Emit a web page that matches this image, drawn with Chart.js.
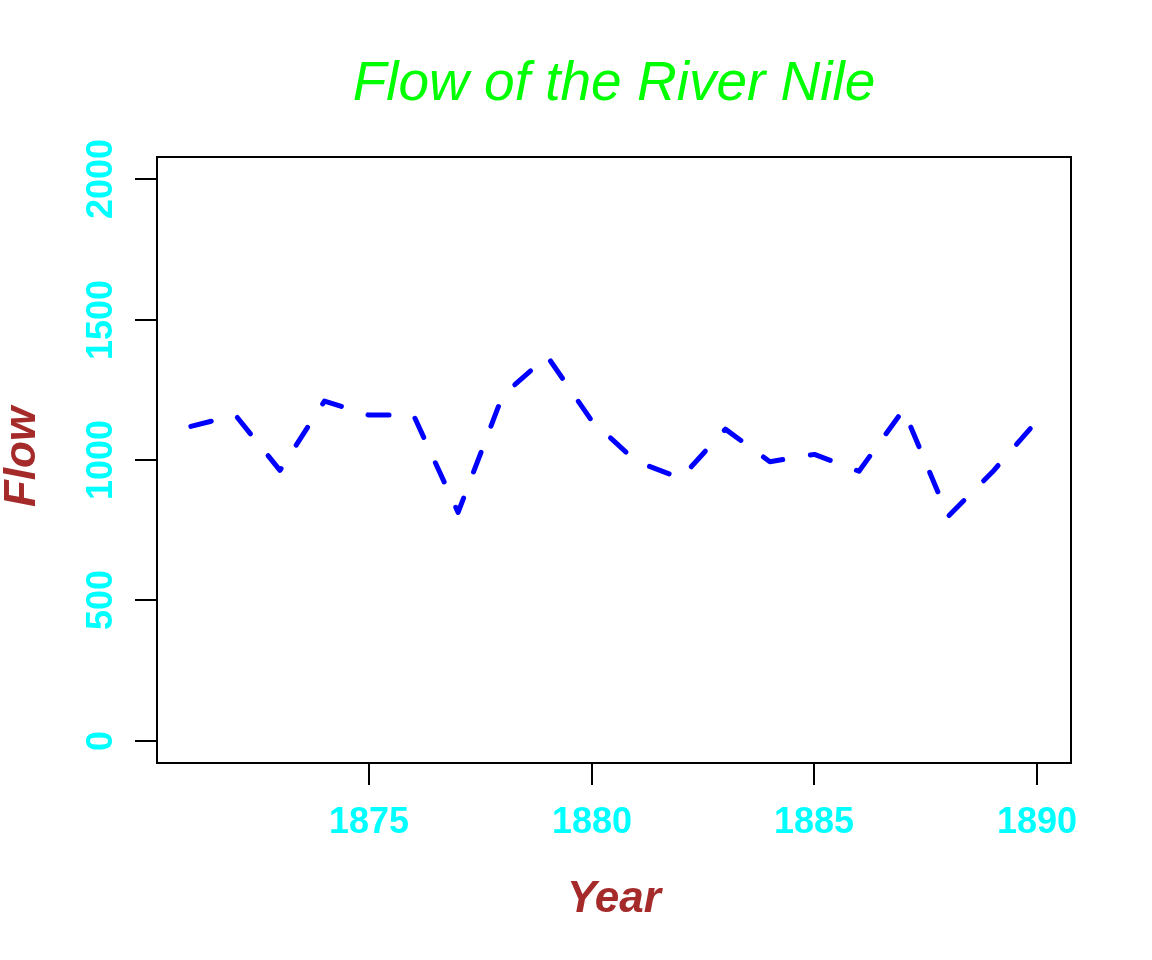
<!DOCTYPE html>
<html>
<head>
<meta charset="utf-8">
<script src="https://cdn.jsdelivr.net/npm/chart.js@4/dist/chart.umd.min.js"></script>
<style>
  body { margin: 0; background: #fff; }
  canvas { display: block; }
</style>
</head>
<body>
<canvas id="grafico" width="1152" height="960"></canvas>
<script>
// Nile flow, 1871-1890
const anos = [1871, 1872, 1873, 1874, 1875, 1876, 1877, 1878, 1879, 1880,
              1881, 1882, 1883, 1884, 1885, 1886, 1887, 1888, 1889, 1890];
const fluxo = [1120, 1160, 963, 1210, 1160, 1160, 813, 1230, 1370, 1140,
               995, 935, 1110, 994, 1020, 960, 1180, 799, 958, 1140];
const ticksX = [1875, 1880, 1885, 1890];
const ticksY = [0, 500, 1000, 1500, 2000];

const eixosR = {
    id: 'eixosR',
    afterDraw(chart) {
        const c = chart.ctx;
        const area = chart.chartArea;
        const sx = chart.scales.x;
        const sy = chart.scales.y;
        c.save();
        c.strokeStyle = '#000';
        c.lineWidth = 2;
        c.strokeRect(area.left, area.top, area.right - area.left, area.bottom - area.top);

        c.font = 'bold 36px "Liberation Sans", Arial, sans-serif';
        c.fillStyle = '#00FFFF';
        c.textAlign = 'center';
        c.textBaseline = 'alphabetic';
        ticksX.forEach(v => {
            const px = Math.round(sx.getPixelForValue(v));
            c.beginPath();
            c.moveTo(px, area.bottom);
            c.lineTo(px, area.bottom + 22);
            c.stroke();
            c.fillText(String(v), px, 833);
        });
        ticksY.forEach(v => {
            const py = Math.round(sy.getPixelForValue(v));
            c.beginPath();
            c.moveTo(area.left, py);
            c.lineTo(area.left - 22, py);
            c.stroke();
            c.save();
            c.translate(112, py);
            c.rotate(-Math.PI / 2);
            c.fillText(String(v), 0, 0);
            c.restore();
        });

        const cx = (area.left + area.right) / 2;
        const cy = (area.top + area.bottom) / 2;
        c.fillStyle = '#00FF00';
        c.font = 'italic 55px "Liberation Sans", Arial, sans-serif';
        c.fillText('Flow of the River Nile', cx, 100);

        c.fillStyle = '#A52A2A';
        c.font = 'italic bold 44px "Liberation Sans", Arial, sans-serif';
        c.fillText('Year', cx, 912);
        c.save();
        c.translate(35, cy - 3);
        c.rotate(-Math.PI / 2);
        c.fillText('Flow', 0, 0);
        c.restore();
        c.restore();
    }
};

const ctx = document.getElementById('grafico').getContext('2d');

new Chart(ctx, {
    type: 'line',
    data: {
        datasets: [{
            data: anos.map((a, i) => ({ x: a, y: fluxo[i] })),
            borderColor: '#0000FF',
            borderWidth: 5,
            borderDash: [21, 28],
            borderCapStyle: 'round',
            borderJoinStyle: 'round',
            pointRadius: 0,
            tension: 0,
            fill: false
        }]
    },
    options: {
        responsive: false,
        animation: false,
        layout: {
            padding: { left: 157, top: 157, right: 81, bottom: 197 }
        },
        scales: {
            x: { type: 'linear', min: 1870.24, max: 1890.76, display: false },
            y: { type: 'linear', min: -80, max: 2080, display: false }
        },
        plugins: {
            legend: { display: false },
            tooltip: { enabled: false }
        }
    },
    plugins: [eixosR]
});
</script>
</body>
</html>
